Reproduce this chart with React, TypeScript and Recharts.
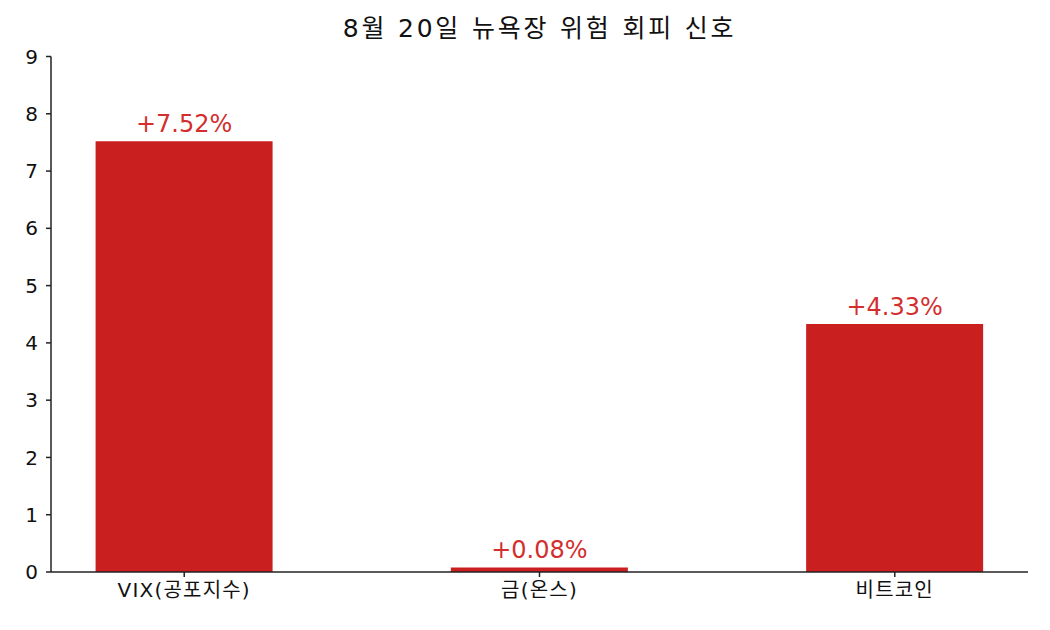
import { BarChart, Bar, XAxis, YAxis, LabelList } from 'recharts';

const categories = ['VIX(공포지수)', '금(온스)', '비트코인'];
const changes = [7.52, 0.08, 4.33];
const changeLabels = ['+7.52%', '+0.08%', '+4.33%'];
const yTicks = [0, 1, 2, 3, 4, 5, 6, 7, 8, 9];

const data = categories.map((name, i) => ({
    pos: i,
    name,
    value: changes[i],
    label: changeLabels[i],
}));

const FONT = '"DejaVu Sans", "Noto Sans CJK KR", sans-serif';

export default function App() {
    return (
        <div style={{ position: 'absolute', left: 0, top: 0, width: 1050, height: 630, background: '#fff', fontFamily: FONT }}>
            <div
                style={{
                    position: 'absolute',
                    left: 51,
                    width: 977,
                    top: 14,
                    textAlign: 'center',
                    fontSize: 25,
                    lineHeight: '30px',
                    letterSpacing: 2.8,
                    color: '#111',
                }}
            >
                8월 20일 뉴욕장 위험 회피 신호
            </div>
            <BarChart
                width={1050}
                height={630}
                data={data}
                margin={{ top: 56.5, right: 22, bottom: 0, left: 0 }}
            >
                <XAxis
                    dataKey="pos"
                    type="number"
                    domain={[-0.375, 2.375]}
                    ticks={[0, 1, 2]}
                    tickFormatter={(v) => categories[v]}
                    height={58}
                    stroke="#222"
                    strokeWidth={1.5}
                    tickSize={5}
                    tickMargin={6}
                    tick={{ fill: '#111', fontSize: 20, fontFamily: FONT, letterSpacing: 1.2 }}
                />
                <YAxis
                    type="number"
                    domain={[0, 9]}
                    ticks={yTicks}
                    width={51}
                    stroke="#222"
                    strokeWidth={1.5}
                    tickSize={5}
                    tickMargin={8}
                    tick={{ fill: '#111', fontSize: 20, fontFamily: FONT }}
                />
                <Bar dataKey="value" fill="#c91f1f" barSize={177} isAnimationActive={false}>
                    <LabelList
                        dataKey="label"
                        position="top"
                        offset={9}
                        fill="#d32f2f"
                        fontSize={24}
                        fontFamily={FONT}
                    />
                </Bar>
            </BarChart>
        </div>
    );
}
